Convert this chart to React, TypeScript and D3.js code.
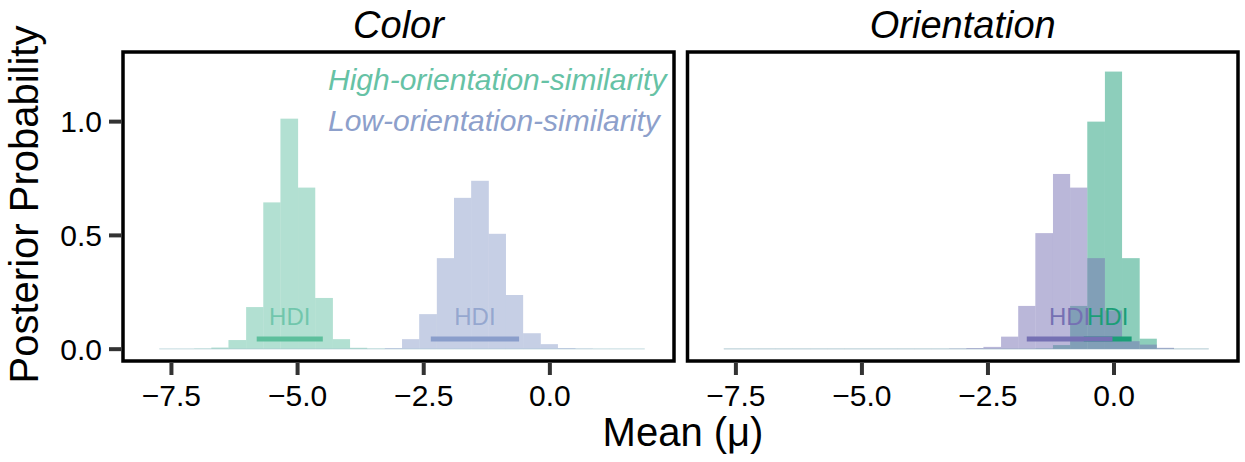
import React from "react";
import * as d3 from "d3";

// shared histogram bin edges (28 bins)
const binEdges = [
  -7.74, -7.4, -7.05, -6.71, -6.37, -6.02, -5.68, -5.34, -4.99, -4.65, -4.3, -3.96, -3.62, -3.27,
  -2.93, -2.59, -2.24, -1.9, -1.56, -1.21, -0.87, -0.53, -0.18, 0.16, 0.51, 0.85, 1.19, 1.54, 1.88,
];

// posterior densities per bin
const colorHigh = [
  0.002, 0.002, 0.003, 0.007, 0.04, 0.185, 0.645, 1.013, 0.71, 0.225, 0.044, 0.006, 0.003, 0.002,
  0.002, 0.002, 0.002, 0.002, 0.002, 0.002, 0.002, 0.002, 0.002, 0.002, 0.002, 0.002, 0.002, 0.002,
];
const colorLow = [
  0.002, 0.002, 0.002, 0.002, 0.002, 0.002, 0.002, 0.002, 0.002, 0.002, 0.002, 0.002, 0.002, 0.005,
  0.044, 0.154, 0.4, 0.665, 0.74, 0.507, 0.238, 0.07, 0.022, 0.005, 0.003, 0.002, 0.002, 0.002,
];
const orientHigh = [
  0.002, 0.002, 0.002, 0.002, 0.002, 0.002, 0.002, 0.002, 0.002, 0.002, 0.002, 0.002, 0.002, 0.002,
  0.002, 0.002, 0.002, 0.002, 0.003, 0.018, 0.19, 1.0, 1.22, 0.4, 0.046, 0.003, 0.002, 0.002,
];
const orientLow = [
  0.002, 0.002, 0.002, 0.002, 0.002, 0.002, 0.002, 0.002, 0.002, 0.002, 0.002, 0.002, 0.002, 0.003,
  0.005, 0.01, 0.055, 0.19, 0.51, 0.77, 0.71, 0.4, 0.17, 0.035, 0.02, 0.006, 0.002, 0.002,
];

// highest density intervals
const colorHdiHigh = [-5.81, -4.5];
const colorHdiLow = [-2.36, -0.61];
const orientHdiHigh = [-0.6, 0.35];
const orientHdiLow = [-1.73, -0.03];

const panelTitles = ["Color", "Orientation"];
const legendLabels = ["High-orientation-similarity", "Low-orientation-similarity"];
const xTicks = [-7.5, -5.0, -2.5, 0.0];
const yTicks = [0, 0.5, 1.0];

const FONT = "'Liberation Sans', Arial, sans-serif";
const W = 1245;
const H = 462;
const top = 52;
const bottom = 361;

const panels = [
  {
    title: panelTitles[0],
    x0: 123,
    x1: 674,
    series: [
      { values: colorHigh, hdi: colorHdiHigh, fill: "#66c2a5", line: "#5dbf9c", textOpacity: 0.85 },
      { values: colorLow, hdi: colorHdiLow, fill: "#8da0cb", line: "#8a9ecb", textOpacity: 0.85 },
    ],
    legend: true,
  },
  {
    title: panelTitles[1],
    x0: 687.5,
    x1: 1238,
    series: [
      { values: orientHigh, hdi: orientHdiHigh, fill: "#1b9e77", line: "#1b9e77", textOpacity: 1 },
      { values: orientLow, hdi: orientHdiLow, fill: "#7570b3", line: "#7570b3", textOpacity: 1 },
    ],
    legend: false,
  },
];

const y = d3.scaleLinear().domain([-0.052, 1.306]).range([bottom, top]);
const fmt = d3.format(".1f");

function Panel({ p, showY }) {
  const x = d3.scaleLinear().domain([-8.46, 2.46]).range([p.x0, p.x1]);
  const bins = d3.range(binEdges.length - 1);
  const hdiY = y(0.045);
  return (
    <g>
      {p.series.map((s, si) => (
        <g key={"h" + si}>
          {bins.map((i) => (
            <rect
              key={i}
              x={x(binEdges[i])}
              y={y(s.values[i])}
              width={x(binEdges[i + 1]) - x(binEdges[i])}
              height={y(0) - y(s.values[i])}
              fill={s.fill}
              fillOpacity={0.5}
            />
          ))}
        </g>
      ))}
      {p.series.map((s, si) => (
        <g key={"d" + si}>
          <line
            x1={x(s.hdi[0])}
            x2={x(s.hdi[1])}
            y1={hdiY}
            y2={hdiY}
            stroke={s.line}
            strokeWidth={5}
          />
          <text
            x={x((s.hdi[0] + s.hdi[1]) / 2)}
            y={hdiY - 14}
            textAnchor="middle"
            fontSize={24}
            fill={s.fill}
            fillOpacity={s.textOpacity}
          >
            HDI
          </text>
        </g>
      ))}
      <rect
        x={p.x0}
        y={top}
        width={p.x1 - p.x0}
        height={bottom - top}
        fill="none"
        stroke="#000"
        strokeWidth={3.5}
      />
      {xTicks.map((t) => (
        <g key={t}>
          <line x1={x(t)} x2={x(t)} y1={bottom + 2} y2={bottom + 14} stroke="#333" strokeWidth={4} />
          <text x={x(t)} y={406} textAnchor="middle" fontSize={30} fill="#000">
            {fmt(t)}
          </text>
        </g>
      ))}
      {showY &&
        yTicks.map((t) => (
          <g key={t}>
            <line x1={p.x0 - 14} x2={p.x0 - 2} y1={y(t)} y2={y(t)} stroke="#333" strokeWidth={4} />
            <text x={102} y={y(t)} dy="0.36em" textAnchor="end" fontSize={30} fill="#000">
              {fmt(t)}
            </text>
          </g>
        ))}
      <text
        x={(p.x0 + p.x1) / 2}
        y={38}
        textAnchor="middle"
        fontSize={38}
        fontStyle="italic"
        fill="#000"
      >
        {p.title}
      </text>
      {p.legend &&
        p.series.map((s, si) => (
          <text
            key={"l" + si}
            x={328}
            y={90 + si * 41}
            fontSize={30}
            fontStyle="italic"
            fill={s.fill}
          >
            {legendLabels[si]}
          </text>
        ))}
    </g>
  );
}

export default function App() {
  return (
    <svg
      width={W}
      height={H}
      style={{ position: "absolute", left: 0, top: 0, background: "#fff" }}
      fontFamily={FONT}
    >
      {panels.map((p, i) => (
        <Panel key={i} p={p} showY={i === 0} />
      ))}
      <text x={683} y={446} textAnchor="middle" fontSize={40} fill="#000">
        Mean (μ)
      </text>
      <text
        transform={`translate(38,${(top + bottom) / 2 - 2}) rotate(-90)`}
        textAnchor="middle"
        fontSize={40}
        fill="#000"
      >
        Posterior Probability
      </text>
    </svg>
  );
}
